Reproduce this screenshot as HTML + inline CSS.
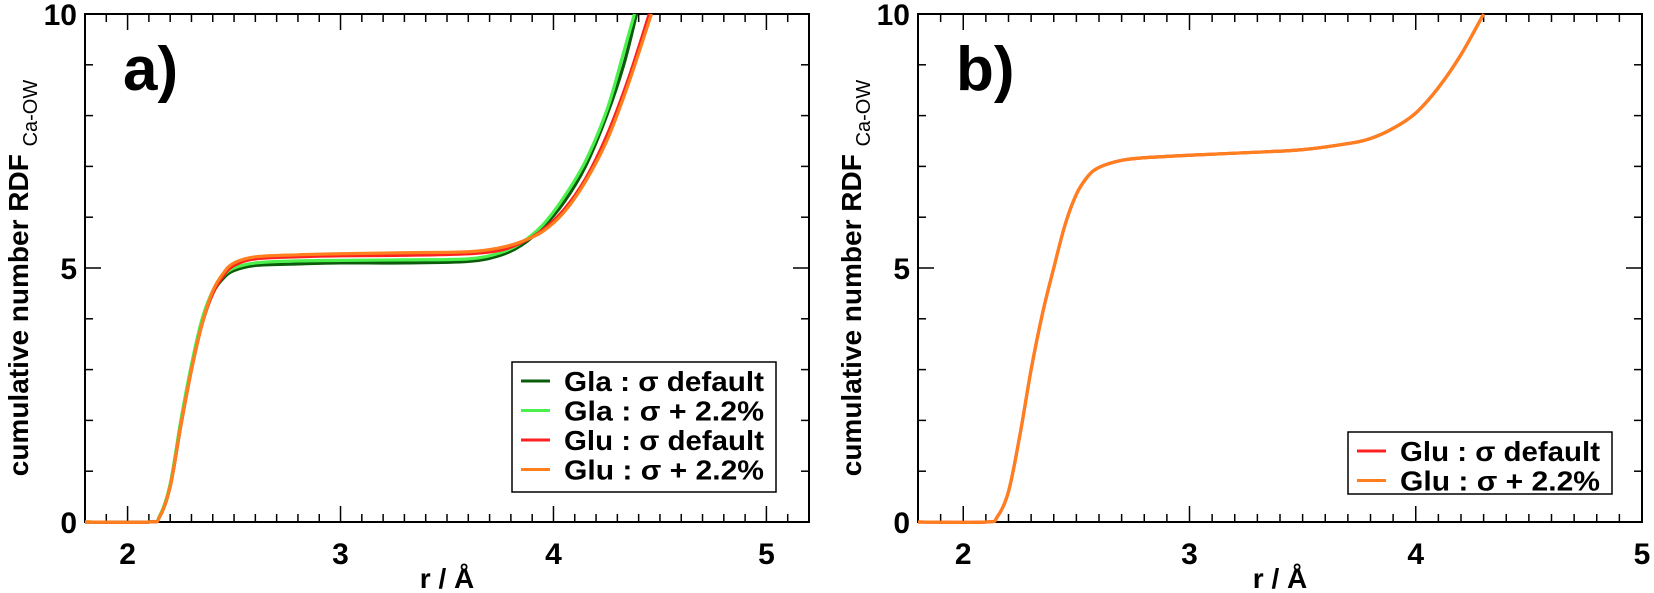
<!DOCTYPE html>
<html><head><meta charset="utf-8"><style>
html,body{margin:0;padding:0;background:#fff}
svg{display:block;font-family:"Liberation Sans",sans-serif;font-weight:bold}
</style></head><body>
<svg id="c" width="1654" height="593" viewBox="0 0 1654 593"></svg>
<script>
const aGlaDefR=[1.8,2.1,2.15,2.2,2.25,2.3,2.35,2.4,2.45,2.5,2.6,2.8,3.0,3.3,3.6,3.75,3.85,3.95,4.05,4.15,4.25,4.33,4.39];
const aGlaDefV=[0,0,0.1,0.7,1.9,3.0,3.9,4.5,4.8,4.95,5.05,5.08,5.1,5.1,5.13,5.25,5.45,5.8,6.3,7.0,8.0,9.0,10];
const aGlaPlusR=[1.8,2.1,2.15,2.2,2.25,2.3,2.35,2.4,2.45,2.5,2.6,2.8,3.0,3.3,3.6,3.75,3.85,3.95,4.05,4.15,4.25,4.32,4.38];
const aGlaPlusV=[0,0,0.12,0.75,2.0,3.1,4.0,4.55,4.85,5.0,5.1,5.14,5.15,5.16,5.18,5.3,5.5,5.85,6.4,7.1,8.1,9.1,10];
const aGluDefR=[1.8,2.1,2.15,2.2,2.25,2.3,2.35,2.4,2.45,2.5,2.6,2.8,3.0,3.3,3.6,3.75,3.85,3.95,4.05,4.15,4.25,4.35,4.45];
const aGluDefV=[0,0,0.1,0.7,1.9,3.0,3.9,4.5,4.85,5.05,5.18,5.22,5.24,5.25,5.28,5.35,5.5,5.75,6.15,6.75,7.6,8.7,10];
const aGluPlusR=[1.8,2.1,2.15,2.2,2.25,2.3,2.35,2.4,2.45,2.5,2.6,2.8,3.0,3.3,3.6,3.75,3.85,3.95,4.05,4.15,4.25,4.35,4.46];
const aGluPlusV=[0,0,0.1,0.7,1.9,3.0,3.9,4.55,4.9,5.1,5.22,5.26,5.28,5.3,5.32,5.4,5.52,5.72,6.1,6.7,7.5,8.6,10];
const bR=[1.8,2.1,2.15,2.2,2.25,2.3,2.35,2.4,2.45,2.5,2.55,2.6,2.7,2.8,3.0,3.3,3.5,3.7,3.8,3.9,4.0,4.1,4.2,4.3];
const bV=[0,0,0.1,0.6,1.7,3.0,4.1,5.0,5.85,6.45,6.8,6.98,7.12,7.17,7.22,7.28,7.33,7.45,7.55,7.75,8.05,8.55,9.2,10];
const yTicks=[0,5,10];
const xTicksA=[2,3,4,5];
const xTicksB=[2,3,4,5];
const legendA=["Gla : σ default","Gla : σ + 2.2%","Glu : σ default","Glu : σ + 2.2%"];
const legendB=["Glu : σ default","Glu : σ + 2.2%"];

const NS="http://www.w3.org/2000/svg";
const svg=document.getElementById('c');
function el(t,a,p){const e=document.createElementNS(NS,t);for(const k in a)e.setAttribute(k,a[k]);(p||svg).appendChild(e);return e;}
function panel(name,L,R,xmin,xmax,series,xt,leg,legBox,label){
  const T=14,B=522;
  const g=el('g',{});
  
  
  const X=v=>L+(v-xmin)/(xmax-xmin)*(R-L);
  const Y=v=>B-v/10*(B-T);
  const fr=el('rect',{x:L,y:T,width:R-L,height:B-T,fill:'none',stroke:'#000','stroke-width':2},g);
  
  
  for(let v=Math.ceil(xmin*10-1e-6);v<=Math.floor(xmax*10+1e-6);v++){
    const r=v/10,maj=(v%10===0),len=maj?16:8;
    el('line',{x1:X(r),x2:X(r),y1:B,y2:B-len,stroke:'#000','stroke-width':1.5},g);
    el('line',{x1:X(r),x2:X(r),y1:T,y2:T+len,stroke:'#000','stroke-width':1.5},g);
  }
  for(let v=0;v<=10;v++){
    const len=(v%5===0)?16:8;
    el('line',{x1:L,x2:L+len,y1:Y(v),y2:Y(v),stroke:'#000','stroke-width':1.5},g);
    el('line',{x1:R,x2:R-len,y1:Y(v),y2:Y(v),stroke:'#000','stroke-width':1.5},g);
  }
  xt.forEach(v=>{const t=el('text',{x:X(v),y:564,'font-size':30,'text-anchor':'middle'},g);t.textContent=v;
    
    });
  yTicks.forEach(v=>{const t=el('text',{x:L-8,y:Y(v)+11,'font-size':30,'text-anchor':'end'},g);t.textContent=v;
    
    });
  const xl=el('text',{x:(L+R)/2,y:588,'font-size':28,'text-anchor':'middle'},g);xl.textContent='r / Å';
  
  
  const yl=el('text',{transform:`translate(${L-57},278) rotate(-90)`,'font-size':28,'text-anchor':'middle'},g);
  
  
  yl.textContent='cumulative number RDF ';
  const sub=el('tspan',{'font-size':20,dy:9,'font-weight':'normal'},yl);sub.textContent='Ca-OW';
  const lb=el('text',{x:L+38,y:90,'font-size':62},g);lb.textContent=label;
  
  
  series.forEach(s=>{
    const P=s.r.map((r,i)=>[X(r),Y(s.v[i])]);
    let d=`M${P[0][0]},${P[0][1]}`;
    for(let i=0;i<P.length-1;i++){
      const p0=P[Math.max(0,i-1)],p1=P[i],p2=P[i+1],p3=P[Math.min(P.length-1,i+2)];
      const c1=[p1[0]+(p2[0]-p0[0])/6,p1[1]+(p2[1]-p0[1])/6],c2=[p2[0]-(p3[0]-p1[0])/6,p2[1]-(p3[1]-p1[1])/6];
      d+=` C${c1[0]},${c1[1]} ${c2[0]},${c2[1]} ${p2[0]},${p2[1]}`;
    }
    const pa=el('path',{d:d,fill:'none',stroke:s.c,'stroke-width':3.2},g);
    
    
  });
  const lg=el('g',{},g);
  
  
  el('rect',{x:legBox[0],y:legBox[1],width:legBox[2],height:legBox[3],fill:'#fff',stroke:'#000','stroke-width':1.5},lg);
  leg.forEach((t,i)=>{
    const cy=legBox[1]+19+i*29.5;
    el('line',{x1:legBox[0]+9,x2:legBox[0]+38,y1:cy,y2:cy,stroke:series[i].c,'stroke-width':3},lg);
    const tx=el('text',{x:legBox[0]+52,y:cy+10,'font-size':28,textLength:200,lengthAdjust:'spacingAndGlyphs'},lg);tx.textContent=t;
    
    
  });
}
panel('panel-a',85,809,1.8,5.2,[
  {r:aGlaDefR,v:aGlaDefV,c:'#0a5c0a',n:'gla-default-line'},
  {r:aGlaPlusR,v:aGlaPlusV,c:'#4cf04c',n:'gla-plus-line'},
  {r:aGluDefR,v:aGluDefV,c:'#ff2020',n:'glu-default-line'},
  {r:aGluPlusR,v:aGluPlusV,c:'#ff7f1e',n:'glu-plus-line'}],xTicksA,legendA,[512,362,264,130],'a)');
panel('panel-b',918,1642,1.8,5.0,[
  {r:bR,v:bV,c:'#ff2020',n:'glu-default-line'},
  {r:bR,v:bV,c:'#ff7f1e',n:'glu-plus-line'}],xTicksB,legendB,[1348,432,264,62],'b)');
</script>
</body></html>
